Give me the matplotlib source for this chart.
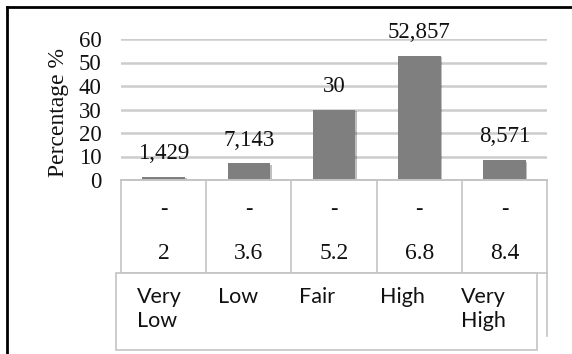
import matplotlib
matplotlib.use("Agg")
import matplotlib.pyplot as plt
import matplotlib.patheffects as pe
from matplotlib.patches import Rectangle
from matplotlib.lines import Line2D
from matplotlib.transforms import blended_transform_factory
import numpy as np

# Score bands, their upper limits and the share of respondents in each
categories = ["Very\nLow", "Low", "Fair", "High", "Very\nHigh"]
score_limits = ["2", "3.6", "5.2", "6.8", "8.4"]
percentages = [1.429, 7.143, 30, 52.857, 8.571]
y_ticks = [0, 10, 20, 30, 40, 50, 60]

SERIF = ["Liberation Serif", "DejaVu Serif"]
SANS = ["Lato", "DejaVu Sans"]
GRID = "#cccccc"
LINE = "#c4c4c4"
INK = "#111111"

W, H = 572, 354
fig = plt.figure(figsize=(W / 100, H / 100), dpi=100)
ax = fig.add_axes([121 / W, 1 - 180 / H, 426 / W, 141 / H])

x = np.arange(len(categories))
bars = ax.bar(x, percentages, width=0.5, color="#7f7f7f", zorder=3)
for b in bars:
    b.set_path_effects([pe.SimplePatchShadow(offset=(1.2, -1.2), shadow_rgbFace="#000000", alpha=0.25),
                        pe.Normal()])

def fmt(v):
    s = f"{v:.3f}".rstrip("0").rstrip(".")
    return s.replace(".", ",")

for xi, v in zip(x, percentages):
    ax.annotate(fmt(v), (xi, v), xytext=(0, 16.5), textcoords="offset points",
                ha="center", va="center", fontsize=16.5, family=SERIF, color=INK,
                zorder=4)

ax.set_xlim(-0.5, len(categories) - 0.5)
ax.set_ylim(0, 60)
ax.set_yticks(y_ticks)
ax.set_yticklabels([str(t) for t in y_ticks], family=SERIF, fontsize=16.5, color=INK)
ax.tick_params(axis="y", length=0, pad=14)
ax.set_xticks([])
ax.grid(axis="y", color=GRID, linewidth=1.8, zorder=0)
ax.set_axisbelow(True)
for s in ax.spines.values():
    s.set_visible(False)

ax.set_ylabel("Percentage %", family=SERIF, fontsize=17, color=INK, va="center")
ax.yaxis.set_label_coords(-0.147, 0.48)

# Category table under the axis
tr = blended_transform_factory(ax.transData, ax.transAxes)
row1_bottom = -0.66
for b in np.arange(len(categories) + 1) - 0.5:
    bottom = -1.106 if b == x[-1] + 0.5 else row1_bottom
    ax.add_line(Line2D([b, b], [0, bottom], transform=tr, color=LINE, lw=1.2,
                       clip_on=False, zorder=5))
ax.add_line(Line2D([-0.5, x[-1] + 0.5], [0, 0], transform=tr, color=LINE, lw=1.4,
                   clip_on=False, zorder=5))
ax.add_line(Line2D([-0.5, x[-1] + 0.5], [row1_bottom, row1_bottom], transform=tr,
                   color=LINE, lw=1.2, clip_on=False, zorder=5))

for xi, lim in zip(x, score_limits):
    ax.text(xi, -0.206, "-", transform=tr, ha="center", va="center", fontsize=16,
            family=SERIF, fontweight="bold", color=INK, clip_on=False)
    ax.text(xi, -0.518, lim, transform=tr, ha="center", va="center", fontsize=17,
            family=SERIF, color=INK, clip_on=False)

px = 426 / len(categories)
box = Rectangle((-0.5 - 5 / px, -1.206), 421 / px, 1.206 + row1_bottom,
                transform=tr, facecolor="white", edgecolor=LINE, lw=1.2,
                clip_on=False, zorder=6)
ax.add_patch(box)
for i, cat in enumerate(categories):
    ax.text(-0.5 + (16 + 81 * i) / px, -0.76, cat, transform=tr, ha="left", va="top",
            fontsize=15.5, family=SANS, color=INK, linespacing=1.22,
            clip_on=False, zorder=7)

# Outer frame
fig.add_artist(Line2D([7 / W, 7 / W], [0, 1 - 7 / H], color="black", lw=2))
fig.add_artist(Line2D([7 / W, 1], [1 - 7 / H, 1 - 7 / H], color="black", lw=2))

fig.savefig("out.png", dpi=100)
